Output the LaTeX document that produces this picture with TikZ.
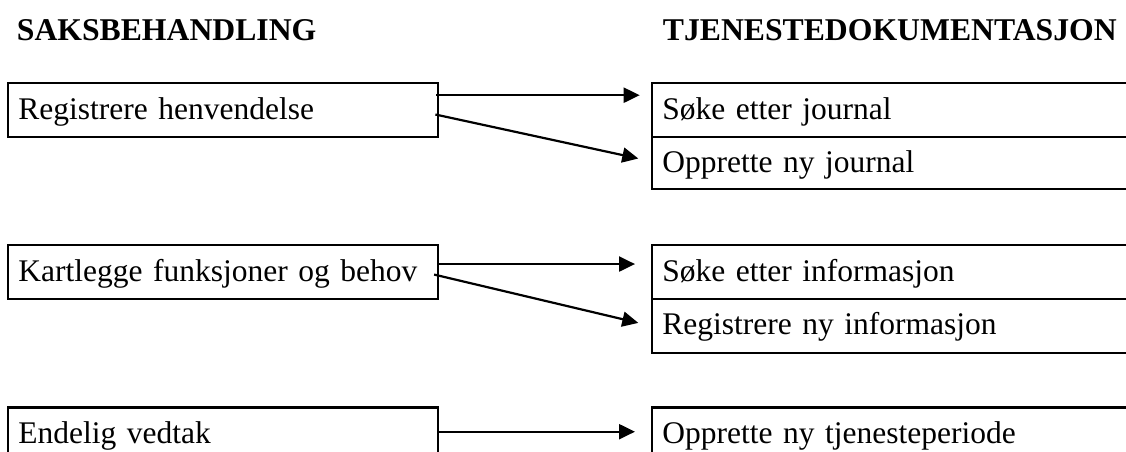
\documentclass[tikz,border=0pt]{standalone}
\usepackage{fontspec}
\setmainfont{Liberation Serif}
\usetikzlibrary{arrows.meta,calc}
\begin{document}
\begin{tikzpicture}[x=1pt,y=-1pt,
  font=\fontsize{31.5}{38}\selectfont,
  box/.style={draw, line width=2.4pt, rectangle, anchor=north west, inner xsep=10.5pt, inner ysep=0pt,
              text height=22pt, text depth=4pt, align=left},
  lbox/.style={box, text width=409pt, minimum height=54pt},
  rbox/.style={box, text width=470pt},
  arr/.style={-{Triangle[length=16pt,width=15pt]}, line width=2.2pt},
  head/.style={font=\fontsize{31.7}{38}\selectfont\bfseries, anchor=base west, inner sep=0pt}]
\useasboundingbox (0,0) rectangle (1126,452);
\clip (0,0) rectangle (1126,452);
\fill[white] (0,0) rectangle (1126,452);

\node[head] (h1) at (16.7,41) {SAKSBEHANDLING};
\node[head] (h2) at (662.7,41) {TJENESTEDOKUMENTASJON};

% row 1
\node[lbox] (L1) at (6.7,82) {Registrere henvendelse};
\node[rbox, minimum height=54pt] (R1a) at (650.7,82) {Søke etter journal};
\node[rbox, minimum height=52pt] (R1b) at (650.7,136) {Opprette ny journal};
\draw[arr] ($(L1.east)+(-3,-15)$) -- ($(R1a.west)+(-11,-15)$);
\draw[arr] ($(L1.east)+(-3.7,4.3)$) -- ($(R1b.west)+(-12.4,-4.7)$);

% row 2
\node[lbox, minimum height=53.7pt] (L2) at (6.7,244) {Kartlegge funksjoner og behov};
\node[rbox, minimum height=53.7pt] (R2a) at (650.7,244) {Søke etter informasjon};
\node[rbox, minimum height=54pt] (R2b) at (650.7,297.7) {Registrere ny informasjon};
\draw[arr] ($(L2.east)+(0,-8)$) -- ($(R2a.west)+(-15.7,-8)$);
\draw[arr] ($(L2.east)+(-5,2.5)$) -- ($(R2b.west)+(-12.4,-3)$);

% row 3
\node[lbox] (L3) at (6.7,406.2) {Endelig vedtak};
\node[rbox, minimum height=54pt] (R3) at (650.7,406.2) {Opprette ny tjenesteperiode};
\draw[arr] ($(L3.east)+(0,-2.7)$) -- ($(R3.west)+(-15.7,-2.7)$);
\end{tikzpicture}
\end{document}
